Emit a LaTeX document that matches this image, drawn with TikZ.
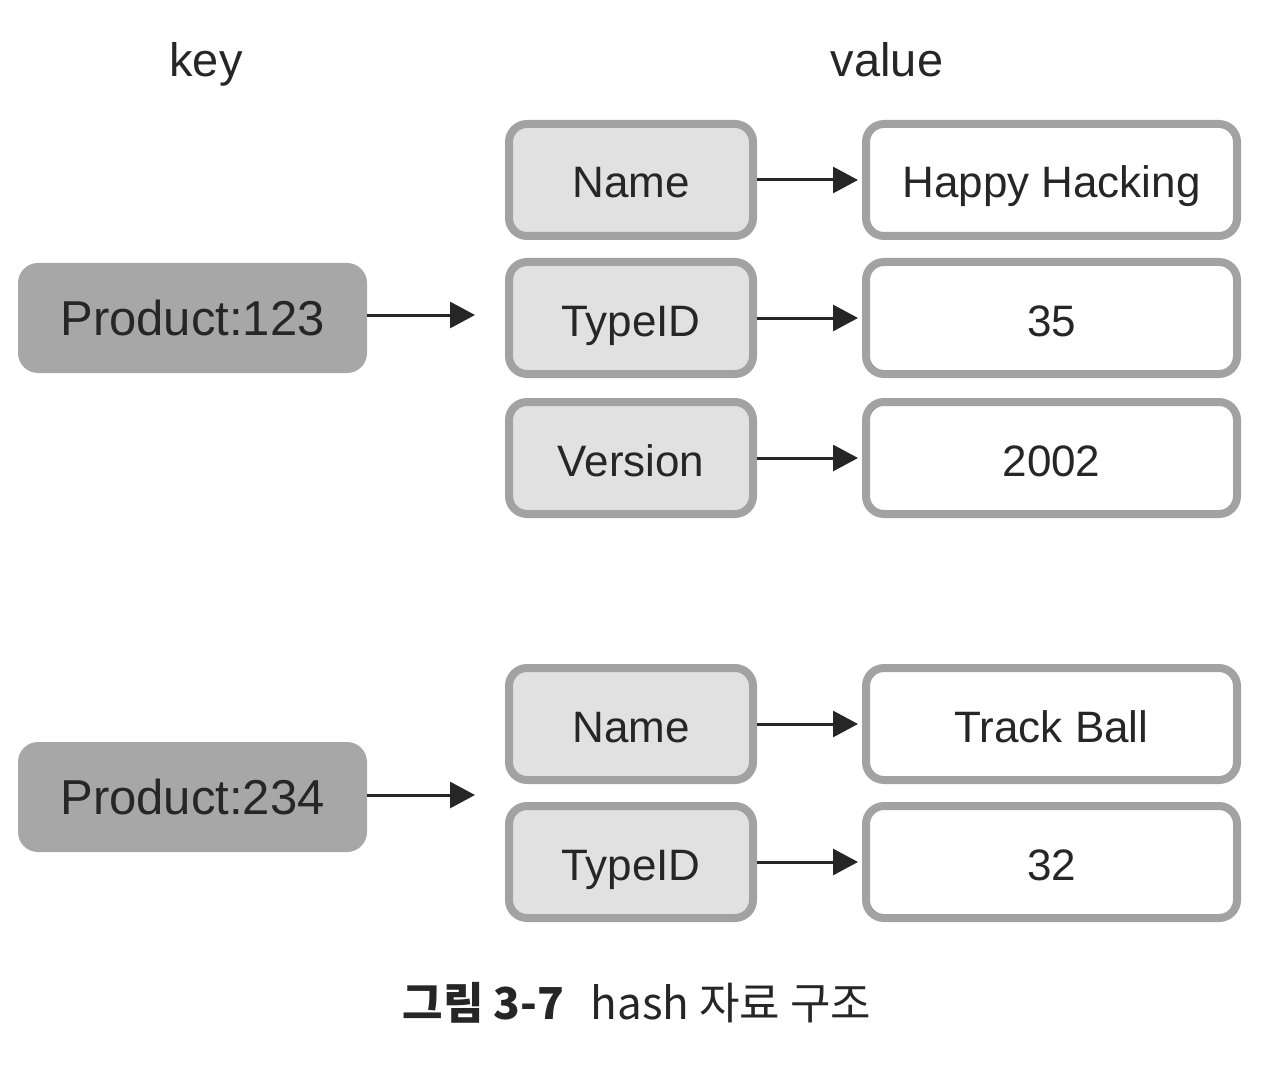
\documentclass[tikz,border=0pt]{standalone}
\usepackage{fontspec}
\setmainfont{Liberation Sans}
\newfontfamily\kr{Noto Sans CJK KR}
\usetikzlibrary{arrows.meta}
\definecolor{keyfill}{HTML}{A7A7A7}
\definecolor{midfill}{HTML}{E1E1E1}
\definecolor{bord}{HTML}{A2A2A2}
\definecolor{ink}{HTML}{262626}
\tikzset{
  keybox/.style={rectangle, rounded corners=20pt, fill=keyfill, draw=none,
    minimum width=349pt, minimum height=110pt, inner sep=0pt,
    text height=35pt, text depth=0pt,
    font=\fontsize{49}{55}\selectfont, text=ink},
  fieldbox/.style={rectangle, rounded corners=18pt, fill=midfill, draw=bord, line width=8pt,
    minimum width=244pt, minimum height=112pt, inner sep=0pt,
    text height=36pt, text depth=0pt,
    font=\fontsize{44}{50}\selectfont, text=ink},
  valbox/.style={rectangle, rounded corners=18pt, fill=white, draw=bord, line width=8pt,
    minimum width=371pt, minimum height=112pt, inner sep=0pt,
    text height=36pt, text depth=0pt,
    font=\fontsize{44}{50}\selectfont, text=ink},
  lbl/.style={font=\fontsize{47}{52}\selectfont, text=ink, inner sep=0pt,
    text height=34pt, text depth=0pt},
  arr/.style={draw=ink, line width=3pt, -{Triangle[length=25pt,width=26pt]}},
}
\begin{document}
\begin{tikzpicture}[x=1pt,y=-1pt]
\useasboundingbox (0,0) rectangle (1272,1078);
\node[lbl] (klab) at (206,60) {key};
\node[lbl] (vlab) at (887,60) {value};

\node[keybox] (k1) at (192.5,318) {Product:123};
\coordinate (a1) at (475,315);
\node[fieldbox] (f1) at (631,180) {Name};
\node[fieldbox] (f2) at (631,318) {TypeID};
\node[fieldbox] (f3) at (631,458) {Version};
\node[valbox] (v1) at (1051.5,180) {Happy Hacking};
\node[valbox] (v2) at (1051.5,318) {35};
\node[valbox] (v3) at (1051.5,458) {2002};

\node[keybox] (k2) at (192.5,797) {Product:234};
\coordinate (a2) at (475,795);
\node[fieldbox] (f4) at (631,724) {Name};
\node[fieldbox] (f5) at (631,862) {TypeID};
\node[valbox] (v4) at (1051.5,724) {Track Ball};
\node[valbox] (v5) at (1051.5,862) {32};

\draw[arr] (k1.east |- a1) -- (a1);
\draw[arr] (k2.east |- a2) -- (a2);
\foreach \a/\b in {f1/v1,f2/v2,f3/v3,f4/v4,f5/v5}
  \draw[arr, shorten >=4pt] (\a.east) -- (\b.west);

\node[inner sep=0pt, text=ink, font=\kr\fontsize{44}{50}\selectfont] (cap) at (637,1003)
  {{\bfseries 그림 3-7}\hspace{0.6em}hash 자료 구조};
\end{tikzpicture}
\end{document}
